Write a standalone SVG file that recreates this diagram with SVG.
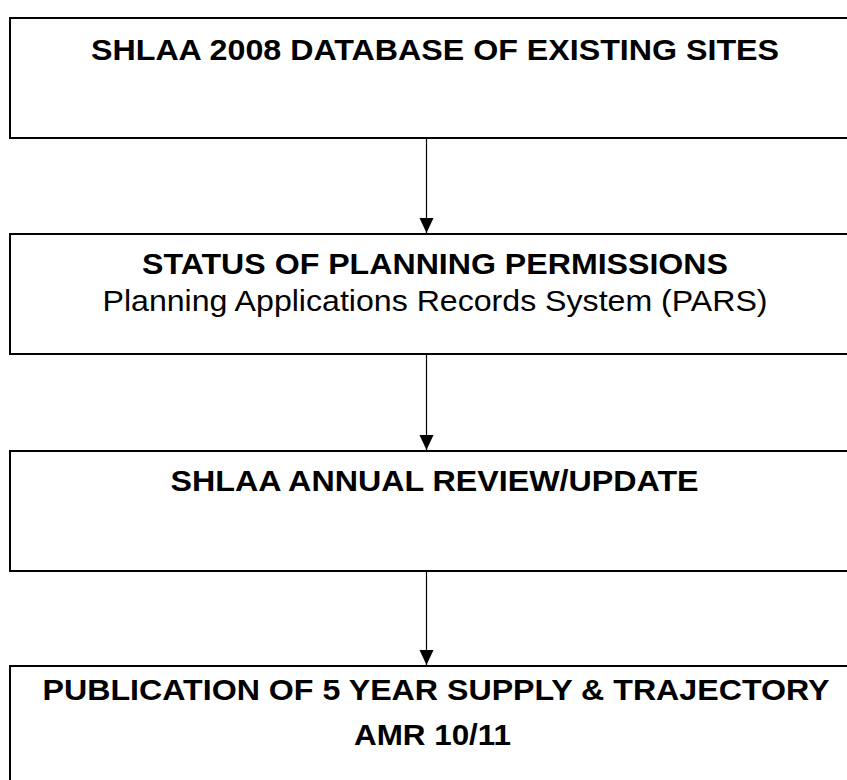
<svg xmlns="http://www.w3.org/2000/svg" width="847" height="780" viewBox="0 0 847 780">
<style>
.box{fill:#fff;stroke:#000;stroke-width:2}
.t{font-family:"Liberation Sans",Arial,sans-serif;font-size:30px;text-anchor:middle;fill:#000}
.b{font-weight:bold}
.c{stroke:#000;stroke-width:1.2;fill:none}
</style>
<defs>
<marker id="ah" markerWidth="15" markerHeight="15" refX="15" refY="7.5" orient="auto" markerUnits="userSpaceOnUse">
<path d="M0,0.5 L15,7.5 L0,14.5 Z" fill="#000"/>
</marker>
</defs>
<rect width="847" height="780" fill="#fff"/>
<g id="n1">
<rect class="box" x="10" y="18" width="855" height="120"/>
<text class="t b" x="435" y="60" textLength="688" lengthAdjust="spacingAndGlyphs">SHLAA 2008 DATABASE OF EXISTING SITES</text>
</g>
<g id="n2">
<rect class="box" x="10" y="234" width="855" height="120"/>
<text class="t b" x="435" y="274" textLength="586" lengthAdjust="spacingAndGlyphs">STATUS OF PLANNING PERMISSIONS</text>
<text class="t" x="435" y="310.5" textLength="665" lengthAdjust="spacingAndGlyphs">Planning Applications Records System (PARS)</text>
</g>
<g id="n3">
<rect class="box" x="10" y="451" width="855" height="120"/>
<text class="t b" x="434.6" y="490.7" textLength="528" lengthAdjust="spacingAndGlyphs">SHLAA ANNUAL REVIEW/UPDATE</text>
</g>
<g id="n4">
<rect class="box" x="10" y="666" width="855" height="130"/>
<text class="t b" x="436" y="700" textLength="787" lengthAdjust="spacingAndGlyphs">PUBLICATION OF 5 YEAR SUPPLY &amp; TRAJECTORY</text>
<text class="t b" x="432.5" y="745" textLength="157" lengthAdjust="spacingAndGlyphs">AMR 10/11</text>
</g>
<g id="connectors">
<line class="c" x1="426.5" y1="139" x2="426.5" y2="233" marker-end="url(#ah)"/>
<line class="c" x1="426.5" y1="355" x2="426.5" y2="450" marker-end="url(#ah)"/>
<line class="c" x1="426.5" y1="572" x2="426.5" y2="665" marker-end="url(#ah)"/>
</g>
</svg>
